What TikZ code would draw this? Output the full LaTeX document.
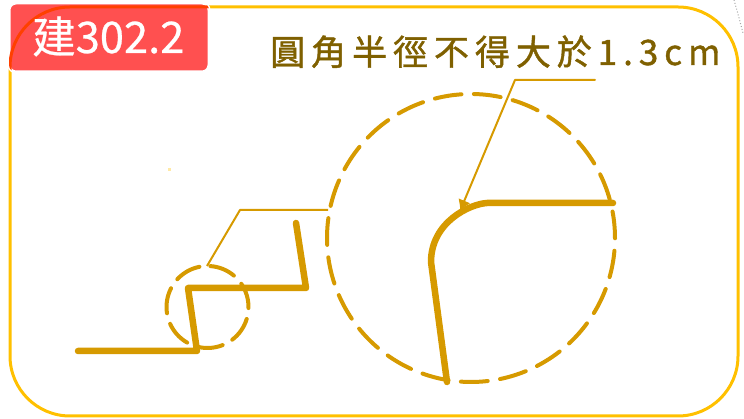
\documentclass[tikz,border=0pt]{standalone}
\usepackage{fontspec}
\newfontfamily\badgefont[FakeBold=0.6]{Noto Sans CJK TC}
\newfontfamily\capfont[LetterSpace=17,FakeBold=1.2]{Noto Sans CJK TC}
\usepackage{tikz}
\usetikzlibrary{arrows.meta}
\definecolor{framegold}{HTML}{FFC000}
\definecolor{framered}{HTML}{FF4000}
\definecolor{badgered}{HTML}{FF5050}
\definecolor{inkgold}{HTML}{D69A00}
\definecolor{capbrown}{HTML}{7F6000}
\tikzset{
	profile/.style={line width=6.5pt, color=inkgold, line cap=round, line join=round},
	lensdash/.style={line width=4pt, color=inkgold, line cap=round},
	leader/.style={line width=2pt, color=inkgold, line join=round},
	badgetext/.style={inner sep=0pt, anchor=base west}
}
\def\framepath{(10, 3) rectangle (738, 412)}
\def\badgepath{(9, 347) rectangle (209, 416)}

\begin{document}
\begin{tikzpicture}[x=1pt, y=1pt]
	\useasboundingbox (0, 0) rectangle (744, 419);
	%%%%% FRAME %%%%%
	\draw[line width=3pt, color=framegold, rounded corners=60pt] \framepath;
	\draw[line width=1pt, color=black!35, dotted] (734, 419) .. controls (738, 405) .. (743, 386);
	\draw[line width=3pt, color=white, fill=badgered, rounded corners=7pt] \badgepath;
	\begin{scope}
		\clip[rounded corners=7pt] \badgepath;
		\draw[line width=3pt, color=framered, rounded corners=60pt] \framepath;
	\end{scope}
	%%%%% TEXT %%%%%
	\node[badgetext, color=white] (badge) at (32, 366) {\badgefont\fontsize{43.5}{44}\selectfont 建302.2};
	\node[inner sep=0pt, anchor=base west, color=capbrown] (caption) at (270, 354) {\capfont\fontsize{35}{36}\selectfont 圓角半徑不得大於1.3cm};
	%%%%% SMALL DETAIL %%%%%
	\coordinate (smallc) at (207.5, 112);
	\foreach \i in {0,...,6} {
		\pgfmathsetmacro\a{137.4-\i*360/7}
		\draw[lensdash] (smallc) ++(\a:41) arc[start angle=\a, delta angle=-36, radius=41];
	}
	\draw[profile] (78, 68) -- (197, 68) -- (188, 131) -- (306, 131) -- (296, 196);
	\draw[leader] (207, 153) -- (240, 209) -- (328, 209);
	%%%%% BIG DETAIL %%%%%
	\coordinate (bigc) at (471, 181);
	\foreach \i in {0,...,22} {
		\pgfmathsetmacro\a{104.5-\i*360/23}
		\draw[lensdash] (bigc) ++(\a:144) arc[start angle=\a, delta angle=-10.7, radius=144];
	}
	\draw[profile] (613, 216) -- (487, 216) .. controls (470, 215) and (431, 197) .. (431, 157) -- (447, 37);
	\draw[leader, line cap=round, -{Latex[length=11pt, width=13pt]}] (595, 339) -- (515, 339) -- (460, 208);
	\fill[color=framegold!35] (168, 248) rectangle (170.5, 250.5);
\end{tikzpicture}
\end{document}
